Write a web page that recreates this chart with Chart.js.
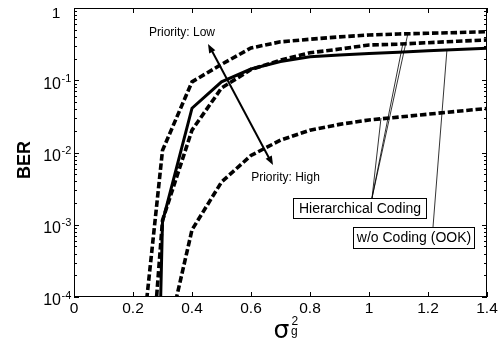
<!DOCTYPE html>
<html><head><meta charset="utf-8">
<script src="https://cdn.jsdelivr.net/npm/chart.js@4/dist/chart.umd.min.js"></script>
<style>html,body{margin:0;padding:0;background:#fff}#wrap{width:504px;height:349px}</style>
</head><body><div id="wrap"><canvas id="c" width="504" height="349"></canvas></div>
<script>
// sigma_g^2 sample points
const sigma2 = [0.2, 0.3, 0.4, 0.5, 0.6, 0.7, 0.8, 0.9, 1.0, 1.1, 1.2, 1.3, 1.4];
// Hierarchical coding, low priority bits
const berHierLow = [1.5e-6, 0.0107, 0.095, 0.166, 0.28, 0.34, 0.37, 0.398, 0.423, 0.437, 0.447, 0.457, 0.47];
// Hierarchical coding, middle priority bits
const berHierMid = [6e-9, 1.15e-3, 0.0204, 0.078, 0.141, 0.19, 0.24, 0.27, 0.308, 0.316, 0.331, 0.347, 0.361];
// Hierarchical coding, high priority bits
const berHierHigh = [1e-12, 1.4e-5, 8.5e-4, 3.9e-3, 9.1e-3, 0.0148, 0.0204, 0.0245, 0.0282, 0.0309, 0.0339, 0.0372, 0.0407];
// w/o coding (OOK)
const berOOK = [1e-20, 1.1e-3, 0.041, 0.095, 0.143, 0.182, 0.212, 0.224, 0.235, 0.245, 0.257, 0.266, 0.277];

const xTickValues = [0, 0.2, 0.4, 0.6, 0.8, 1, 1.2, 1.4];
const xTickLabels = ['0', '0.2', '0.4', '0.6', '0.8', '1', '1.2', '1.4'];
const yTickValues = [1, 1e-1, 1e-2, 1e-3, 1e-4];
const yTickExponents = ['', '-1', '-2', '-3', '-4'];

const SANS = '"Liberation Sans", Arial, sans-serif';

function pts(ys) { return sigma2.map((x, i) => ({x: x, y: ys[i]})); }
function dashed(ys) {
  return {data: pts(ys), borderColor: '#000', borderWidth: 3.6, borderDash: [6.5, 2.8],
          pointRadius: 0, fill: false, tension: 0, borderCapStyle: 'butt', borderJoinStyle: 'miter'};
}

function arrowHead(ctx, x1, y1, x2, y2, len, half) {
  const ang = Math.atan2(y2 - y1, x2 - x1);
  ctx.beginPath();
  ctx.moveTo(x2, y2);
  ctx.lineTo(x2 - len * Math.cos(ang) + half * Math.sin(ang), y2 - len * Math.sin(ang) - half * Math.cos(ang));
  ctx.lineTo(x2 - len * Math.cos(ang) - half * Math.sin(ang), y2 - len * Math.sin(ang) + half * Math.cos(ang));
  ctx.closePath();
  ctx.fill();
}

const deco = {
  id: 'deco',
  afterDraw(chart) {
    const ctx = chart.ctx, a = chart.chartArea, xs = chart.scales.x, ys = chart.scales.y;
    ctx.save();
    ctx.strokeStyle = '#000'; ctx.fillStyle = '#000'; ctx.lineWidth = 1;
    // frame
    ctx.strokeRect(a.left + 0.5, a.top + 0.5, a.right - a.left - 1, a.bottom - a.top - 1);
    // x ticks (inward, top and bottom)
    ctx.beginPath();
    xTickValues.forEach(v => {
      const px = Math.round(xs.getPixelForValue(v)) + 0.5;
      ctx.moveTo(px, a.bottom); ctx.lineTo(px, a.bottom - 5);
      ctx.moveTo(px, a.top); ctx.lineTo(px, a.top + 5);
    });
    // y ticks major + minor
    for (let d = -4; d <= 0; d++) {
      const py = Math.round(ys.getPixelForValue(Math.pow(10, d))) + 0.5;
      ctx.moveTo(a.left, py); ctx.lineTo(a.left + 5, py);
      ctx.moveTo(a.right, py); ctx.lineTo(a.right - 5, py);
      if (d < 0) {
        for (let k = 2; k <= 9; k++) {
          const pm = Math.round(ys.getPixelForValue(k * Math.pow(10, d))) + 0.5;
          ctx.moveTo(a.left, pm); ctx.lineTo(a.left + 3, pm);
          ctx.moveTo(a.right, pm); ctx.lineTo(a.right - 3, pm);
        }
      }
    }
    ctx.stroke();
    // x tick labels
    ctx.font = '15.5px ' + SANS; ctx.textAlign = 'center'; ctx.textBaseline = 'middle';
    xTickValues.forEach((v, i) => {
      ctx.fillText(xTickLabels[i], xs.getPixelForValue(v), a.bottom + 12);
    });
    // y tick labels
    yTickValues.forEach((v, i) => {
      const py = ys.getPixelForValue(v);
      if (yTickExponents[i] === '') {
        ctx.font = '15.5px ' + SANS; ctx.textAlign = 'center'; ctx.textBaseline = 'middle';
        ctx.fillText('1', 56, py + 6);
      } else {
        ctx.font = '16px ' + SANS; ctx.textAlign = 'right'; ctx.textBaseline = 'middle';
        ctx.fillText('10', 61, py + 4);
        ctx.font = '11px ' + SANS; ctx.textAlign = 'left';
        ctx.fillText(yTickExponents[i], 61.5, py - 1.5);
      }
    });
    // axis titles
    ctx.save();
    ctx.translate(25, 160); ctx.rotate(-Math.PI / 2);
    ctx.font = 'bold 18px ' + SANS; ctx.textAlign = 'center'; ctx.textBaseline = 'middle';
    ctx.fillText('BER', 0, 0);
    ctx.restore();
    ctx.font = '25px "DejaVu Sans", sans-serif'; ctx.textAlign = 'center'; ctx.textBaseline = 'alphabetic';
    ctx.fillText('σ', 281.5, 338);
    ctx.font = '12px ' + SANS; ctx.textAlign = 'left';
    ctx.fillText('2', 291.5, 325);
    ctx.fillText('g', 291, 334.5);
    // priority arrow
    ctx.lineWidth = 2;
    ctx.beginPath(); ctx.moveTo(212, 51); ctx.lineTo(269, 158); ctx.stroke();
    arrowHead(ctx, 269, 158, 208, 44, 9, 3.5);
    arrowHead(ctx, 212, 51, 273, 165, 9, 3.5);
    ctx.font = '12px ' + SANS; ctx.textAlign = 'center'; ctx.textBaseline = 'middle';
    ctx.fillText('Priority: Low', 182, 33);
    ctx.fillText('Priority: High', 285.5, 178);
    // leader lines
    ctx.lineWidth = 0.8;
    ctx.beginPath();
    ctx.moveTo(372, 198); ctx.lineTo(408, 33);
    ctx.moveTo(372, 198); ctx.lineTo(403, 43);
    ctx.moveTo(372, 198); ctx.lineTo(381, 118);
    ctx.moveTo(433, 227); ctx.lineTo(447, 49);
    ctx.stroke();
    // annotation boxes
    ctx.lineWidth = 1;
    ctx.fillStyle = '#fff';
    ctx.fillRect(293.5, 198.5, 133, 20); ctx.strokeRect(293.5, 198.5, 133, 20);
    ctx.fillRect(353.5, 227.5, 121, 21); ctx.strokeRect(353.5, 227.5, 121, 21);
    ctx.fillStyle = '#000';
    ctx.font = '14px ' + SANS;
    ctx.fillText('Hierarchical Coding', 360, 209);
    ctx.fillText('w/o Coding (OOK)', 414, 238.5);
    ctx.restore();
  }
};

new Chart(document.getElementById('c'), {
  type: 'line',
  data: {
    datasets: [
      dashed(berHierLow),
      dashed(berHierMid),
      dashed(berHierHigh),
      {data: pts(berOOK), borderColor: '#000', borderWidth: 3, pointRadius: 0, fill: false, tension: 0}
    ]
  },
  options: {
    responsive: false, animation: false, devicePixelRatio: 1,
    layout: {padding: {left: 74, right: 17, top: 8, bottom: 52}},
    plugins: {legend: {display: false}, tooltip: {enabled: false}},
    scales: {
      x: {type: 'linear', min: 0, max: 1.4, display: false},
      y: {type: 'logarithmic', min: 1e-4, max: 1, display: false}
    }
  },
  plugins: [deco]
});
</script>
</body></html>
